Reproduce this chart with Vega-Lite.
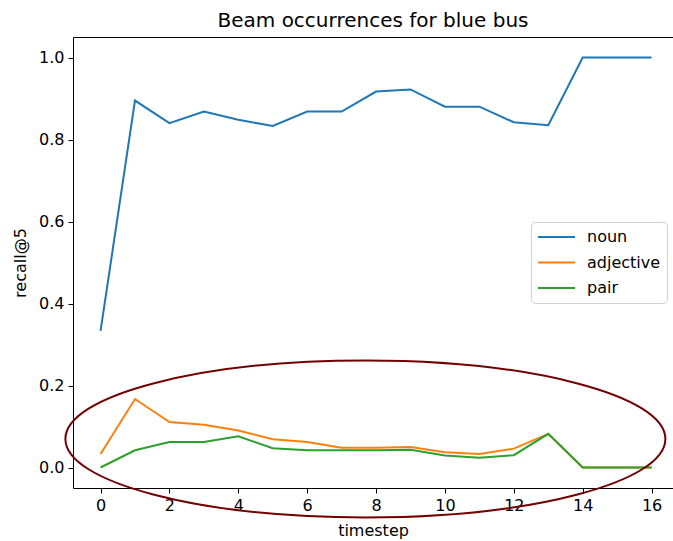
{
  "$schema": "https://vega.github.io/schema/vega-lite/v6.json",
  "width": 600,
  "height": 451,
  "autosize": {"type": "none"},
  "padding": {"left": 73, "top": 37, "right": 0, "bottom": 53},
  "background": "white",
  "title": {
    "text": "Beam occurrences for blue bus",
    "font": "DejaVu Sans",
    "fontSize": 20,
    "fontWeight": "normal",
    "color": "black",
    "anchor": "middle",
    "baseline": "alphabetic",
    "offset": -10
  },
  "config": {
    "view": {"stroke": null},
    "font": "DejaVu Sans",
    "axis": {
      "grid": false,
      "domainColor": "black",
      "domainWidth": 1,
      "tickColor": "black",
      "tickWidth": 1,
      "tickSize": 5,
      "labelColor": "black",
      "labelFont": "DejaVu Sans",
      "labelFontSize": 16,
      "labelPadding": 4,
      "titleFont": "DejaVu Sans",
      "titleFontSize": 16,
      "titleFontWeight": "normal",
      "titleColor": "black"
    }
  },
  "datasets": {
    "series": [
      {"t": 0, "value": 0.333, "series": "noun"},
      {"t": 1, "value": 0.895, "series": "noun"},
      {"t": 2, "value": 0.840, "series": "noun"},
      {"t": 3, "value": 0.868, "series": "noun"},
      {"t": 4, "value": 0.848, "series": "noun"},
      {"t": 5, "value": 0.833, "series": "noun"},
      {"t": 6, "value": 0.868, "series": "noun"},
      {"t": 7, "value": 0.868, "series": "noun"},
      {"t": 8, "value": 0.917, "series": "noun"},
      {"t": 9, "value": 0.922, "series": "noun"},
      {"t": 10, "value": 0.880, "series": "noun"},
      {"t": 11, "value": 0.880, "series": "noun"},
      {"t": 12, "value": 0.842, "series": "noun"},
      {"t": 13, "value": 0.835, "series": "noun"},
      {"t": 14, "value": 1.0, "series": "noun"},
      {"t": 15, "value": 1.0, "series": "noun"},
      {"t": 16, "value": 1.0, "series": "noun"},
      {"t": 0, "value": 0.033, "series": "adjective"},
      {"t": 1, "value": 0.167, "series": "adjective"},
      {"t": 2, "value": 0.111, "series": "adjective"},
      {"t": 3, "value": 0.104, "series": "adjective"},
      {"t": 4, "value": 0.090, "series": "adjective"},
      {"t": 5, "value": 0.069, "series": "adjective"},
      {"t": 6, "value": 0.062, "series": "adjective"},
      {"t": 7, "value": 0.048, "series": "adjective"},
      {"t": 8, "value": 0.048, "series": "adjective"},
      {"t": 9, "value": 0.050, "series": "adjective"},
      {"t": 10, "value": 0.037, "series": "adjective"},
      {"t": 11, "value": 0.033, "series": "adjective"},
      {"t": 12, "value": 0.046, "series": "adjective"},
      {"t": 13, "value": 0.082, "series": "adjective"},
      {"t": 14, "value": 0.0, "series": "adjective"},
      {"t": 15, "value": 0.0, "series": "adjective"},
      {"t": 16, "value": 0.0, "series": "adjective"},
      {"t": 0, "value": 0.0, "series": "pair"},
      {"t": 1, "value": 0.042, "series": "pair"},
      {"t": 2, "value": 0.062, "series": "pair"},
      {"t": 3, "value": 0.062, "series": "pair"},
      {"t": 4, "value": 0.076, "series": "pair"},
      {"t": 5, "value": 0.047, "series": "pair"},
      {"t": 6, "value": 0.042, "series": "pair"},
      {"t": 7, "value": 0.042, "series": "pair"},
      {"t": 8, "value": 0.042, "series": "pair"},
      {"t": 9, "value": 0.043, "series": "pair"},
      {"t": 10, "value": 0.029, "series": "pair"},
      {"t": 11, "value": 0.024, "series": "pair"},
      {"t": 12, "value": 0.030, "series": "pair"},
      {"t": 13, "value": 0.082, "series": "pair"},
      {"t": 14, "value": 0.0, "series": "pair"},
      {"t": 15, "value": 0.0, "series": "pair"},
      {"t": 16, "value": 0.0, "series": "pair"}
    ],
    "annotation": [
      {"t": 7.69, "value": 0.0697}
    ]
  },
  "layer": [
    {
      "data": {"name": "series"},
      "mark": {"type": "line", "strokeWidth": 2, "clip": false},
      "encoding": {
        "x": {
          "field": "t",
          "type": "quantitative",
          "scale": {"domain": [-0.8, 16.622], "nice": false, "zero": false},
          "axis": {
            "orient": "bottom",
            "title": "timestep",
            "values": [0, 2, 4, 6, 8, 10, 12, 14, 16],
            "format": "d",
            "titlePadding": 9
          }
        },
        "y": {
          "field": "value",
          "type": "quantitative",
          "scale": {"domain": [-0.05, 1.05], "nice": false, "zero": false},
          "axis": {
            "title": "recall@5",
            "values": [0, 0.2, 0.4, 0.6, 0.8, 1.0],
            "format": ".1f",
            "titlePadding": 10
          }
        },
        "color": {
          "field": "series",
          "type": "nominal",
          "sort": ["noun", "adjective", "pair"],
          "scale": {
            "domain": ["noun", "adjective", "pair"],
            "range": ["#1f77b4", "#ff7f0e", "#2ca02c"]
          },
          "legend": {
            "title": null,
            "orient": "none",
            "legendX": 458,
            "legendY": 185,
            "symbolType": "stroke",
            "symbolSize": 1369,
            "symbolStrokeWidth": 2,
            "clipHeight": 18,
            "rowPadding": 7.5,
            "labelOffset": 11,
            "labelFont": "DejaVu Sans",
            "labelFontSize": 16,
            "labelColor": "black",
            "padding": 6,
            "strokeColor": "#d0d0d0",
            "fillColor": "white",
            "cornerRadius": 4
          }
        }
      }
    },
    {
      "data": {"name": "annotation"},
      "mark": {
        "type": "point",
        "shape": "M -1 0 C -1 -0.1445 -0.5523 -0.2617 0 -0.2617 C 0.5523 -0.2617 1 -0.1445 1 0 C 1 0.1445 0.5523 0.2617 0 0.2617 C -0.5523 0.2617 -1 0.1445 -1 0 Z",
        "size": 360000,
        "filled": false,
        "stroke": "#720000",
        "strokeWidth": 2,
        "opacity": 1,
        "clip": false
      },
      "encoding": {
        "x": {
          "field": "t",
          "type": "quantitative",
          "axis": {"orient": "top", "title": null, "labels": false, "ticks": false, "minExtent": 0, "maxExtent": 0, "offset": 0}
        },
        "y": {
          "field": "value",
          "type": "quantitative"
        }
      }
    }
  ],
  "resolve": {"axis": {"x": "independent"}}
}
